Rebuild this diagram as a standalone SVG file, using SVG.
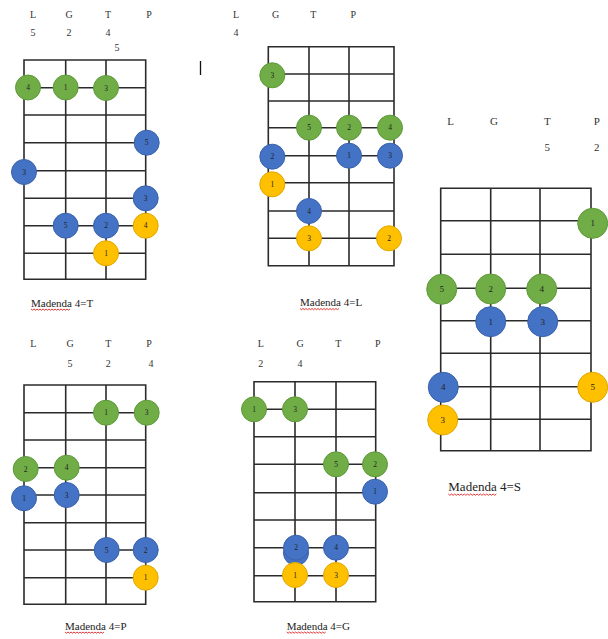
<svg xmlns="http://www.w3.org/2000/svg" width="608" height="639" viewBox="0 0 608 639">
<style>
  .grid { fill: none; stroke: #2b2b2b; stroke-width: 1.6; }
  .hdr { font-family: "Liberation Serif", "Times New Roman", serif; font-size: 10px; fill: #333; text-anchor: middle; }
  .hdr3 { font-family: "Liberation Serif", "Times New Roman", serif; font-size: 11px; fill: #333; text-anchor: middle; }
  .cap { font-family: "Liberation Serif", "Times New Roman", serif; font-size: 11px; fill: #222; }
  .cap3 { font-family: "Liberation Serif", "Times New Roman", serif; font-size: 13px; fill: #222; }
  .g { fill: #70AD47; stroke: #5E9A3A; stroke-width: 1; }
  .b { fill: #4472C4; stroke: #3A62AA; stroke-width: 1; }
  .y { fill: #FFC000; stroke: #E0A800; stroke-width: 1; }
  .n { font-family: "Liberation Serif", "Times New Roman", serif; font-size: 7.5px; fill: #222; text-anchor: middle; }
  .n3 { font-family: "Liberation Serif", "Times New Roman", serif; font-size: 9px; fill: #222; text-anchor: middle; }
  .wavy { fill: none; stroke: #E02020; stroke-width: 0.9; }
</style>

<!-- Diagram 1: Madenda 4=T -->
<g id="diagram-4T">
  <text class="hdr" x="33" y="17.5">L</text>
  <text class="hdr" x="69" y="17.5">G</text>
  <text class="hdr" x="108" y="17.5">T</text>
  <text class="hdr" x="149" y="17.5">P</text>
  <text class="hdr" x="33" y="35.5">5</text>
  <text class="hdr" x="69" y="35.5">2</text>
  <text class="hdr" x="108" y="35.5">4</text>
  <text class="hdr" x="117" y="50.5">5</text>
  <path class="grid" d="M24,60H145.7V279.3H24Z M65.7,60V279.3 M106,60V279.3 M24,87.7H145.7 M24,115H145.7 M24,142.7H145.7 M24,170.7H145.7 M24,198.3H145.7 M24,225.7H145.7 M24,253.3H145.7"/>
  <g id="d1-g4"><circle class="g" cx="28" cy="87.5" r="12.5"/><text class="n" x="28" y="90">4</text></g>
  <g id="d1-g1"><circle class="g" cx="65.7" cy="87.5" r="12.5"/><text class="n" x="65.7" y="90">1</text></g>
  <g id="d1-g3"><circle class="g" cx="106" cy="88" r="12.5"/><text class="n" x="106" y="90.5">3</text></g>
  <g id="d1-b5a"><circle class="b" cx="146.7" cy="142.7" r="12.5"/><text class="n" x="146.7" y="145.2">5</text></g>
  <g id="d1-b3a"><circle class="b" cx="24" cy="172" r="12.5"/><text class="n" x="24" y="174.5">3</text></g>
  <g id="d1-b3b"><circle class="b" cx="145.7" cy="198.3" r="12.5"/><text class="n" x="145.7" y="200.8">3</text></g>
  <g id="d1-b5b"><circle class="b" cx="65.7" cy="225.7" r="12.5"/><text class="n" x="65.7" y="228.2">5</text></g>
  <g id="d1-b2"><circle class="b" cx="106" cy="225.7" r="12.5"/><text class="n" x="106" y="228.2">2</text></g>
  <g id="d1-y4"><circle class="y" cx="145.7" cy="225.7" r="12.5"/><text class="n" x="145.7" y="228.2">4</text></g>
  <g id="d1-y1"><circle class="y" cx="106" cy="253.3" r="12.5"/><text class="n" x="106" y="255.8">1</text></g>
  <text class="cap" x="31" y="306.5">Madenda 4=T</text>
  <path class="wavy" d="M31,309 l1.5,1.2 l1.5,-1.2 l1.5,1.2 l1.5,-1.2 l1.5,1.2 l1.5,-1.2 l1.5,1.2 l1.5,-1.2 l1.5,1.2 l1.5,-1.2 l1.5,1.2 l1.5,-1.2 l1.5,1.2 l1.5,-1.2 l1.5,1.2 l1.5,-1.2 l1.5,1.2 l1.5,-1.2 l1.5,1.2 l1.5,-1.2 l1.5,1.2 l1.5,-1.2 l1.5,1.2 l1.5,-1.2 l1.5,1.2 l1.5,-1.2"/>
</g>

<!-- text cursor mark -->
<line x1="200.5" y1="61" x2="200.5" y2="75" stroke="#111" stroke-width="1.3"/>

<!-- Diagram 2: Madenda 4=L -->
<g id="diagram-4L">
  <text class="hdr" x="236" y="17.5">L</text>
  <text class="hdr" x="275.7" y="17.5">G</text>
  <text class="hdr" x="313.3" y="17.5">T</text>
  <text class="hdr" x="353.3" y="17.5">P</text>
  <text class="hdr" x="236" y="35.5">4</text>
  <path class="grid" d="M268.3,46.7H394V265.7H268.3Z M309,46.7V265.7 M349,46.7V265.7 M268.3,74H394 M268.3,101H394 M268.3,127.7H394 M268.3,155.7H394 M268.3,182.7H394 M268.3,211H394 M268.3,238.3H394"/>
  <g id="d2-g3"><circle class="g" cx="272.3" cy="75.3" r="12.5"/><text class="n" x="272.3" y="77.8">3</text></g>
  <g id="d2-g5"><circle class="g" cx="309" cy="127.7" r="12.5"/><text class="n" x="309" y="130.2">5</text></g>
  <g id="d2-g2"><circle class="g" cx="349" cy="127.7" r="12.5"/><text class="n" x="349" y="130.2">2</text></g>
  <g id="d2-g4"><circle class="g" cx="390" cy="127.7" r="12.5"/><text class="n" x="390" y="130.2">4</text></g>
  <g id="d2-b2"><circle class="b" cx="272.3" cy="156.7" r="12.5"/><text class="n" x="272.3" y="159.2">2</text></g>
  <g id="d2-b1"><circle class="b" cx="349" cy="155.7" r="12.5"/><text class="n" x="349" y="158.2">1</text></g>
  <g id="d2-b3"><circle class="b" cx="390" cy="155.7" r="12.5"/><text class="n" x="390" y="158.2">3</text></g>
  <g id="d2-y1"><circle class="y" cx="272.3" cy="184.3" r="12.5"/><text class="n" x="272.3" y="186.8">1</text></g>
  <g id="d2-b4"><circle class="b" cx="309" cy="211" r="12.5"/><text class="n" x="309" y="213.5">4</text></g>
  <g id="d2-y3"><circle class="y" cx="309" cy="238.3" r="12.5"/><text class="n" x="309" y="240.8">3</text></g>
  <g id="d2-y2"><circle class="y" cx="389" cy="238.3" r="12.5"/><text class="n" x="389" y="240.8">2</text></g>
  <text class="cap" x="300" y="306">Madenda 4=L</text>
  <path class="wavy" d="M300,308.5 l1.5,1.2 l1.5,-1.2 l1.5,1.2 l1.5,-1.2 l1.5,1.2 l1.5,-1.2 l1.5,1.2 l1.5,-1.2 l1.5,1.2 l1.5,-1.2 l1.5,1.2 l1.5,-1.2 l1.5,1.2 l1.5,-1.2 l1.5,1.2 l1.5,-1.2 l1.5,1.2 l1.5,-1.2 l1.5,1.2 l1.5,-1.2 l1.5,1.2 l1.5,-1.2 l1.5,1.2 l1.5,-1.2 l1.5,1.2 l1.5,-1.2"/>
</g>

<!-- Diagram 3: Madenda 4=S -->
<g id="diagram-4S">
  <text class="hdr3" x="450.7" y="124.5">L</text>
  <text class="hdr3" x="494" y="124.5">G</text>
  <text class="hdr3" x="547.3" y="124.5">T</text>
  <text class="hdr3" x="596.7" y="124.5">P</text>
  <text class="hdr3" x="547.3" y="150.5">5</text>
  <text class="hdr3" x="596.7" y="150.5">2</text>
  <path class="grid" d="M440.7,188.3H591V450.7H440.7Z M490.7,188.3V450.7 M540,188.3V450.7 M440.7,220.7H591 M440.7,254.3H591 M440.7,288.3H591 M440.7,320.7H591 M440.7,353.3H591 M440.7,386.7H591 M440.7,419.3H591"/>
  <g id="d3-g1"><circle class="g" cx="592.7" cy="223.3" r="15"/><text class="n3" x="592.7" y="226.3">1</text></g>
  <g id="d3-g5"><circle class="g" cx="441.7" cy="289.3" r="15"/><text class="n3" x="441.7" y="292.3">5</text></g>
  <g id="d3-g2"><circle class="g" cx="490.7" cy="289" r="15"/><text class="n3" x="490.7" y="292">2</text></g>
  <g id="d3-g4"><circle class="g" cx="541.7" cy="289" r="15"/><text class="n3" x="541.7" y="292">4</text></g>
  <g id="d3-b1"><circle class="b" cx="490.7" cy="321.7" r="15"/><text class="n3" x="490.7" y="324.7">1</text></g>
  <g id="d3-b3"><circle class="b" cx="542.7" cy="321.7" r="15"/><text class="n3" x="542.7" y="324.7">3</text></g>
  <g id="d3-b4"><circle class="b" cx="443.3" cy="387.3" r="15"/><text class="n3" x="443.3" y="390.3">4</text></g>
  <g id="d3-y5"><circle class="y" cx="592.7" cy="387.3" r="15"/><text class="n3" x="592.7" y="390.3">5</text></g>
  <g id="d3-y3"><circle class="y" cx="442.7" cy="420" r="15"/><text class="n3" x="442.7" y="423">3</text></g>
  <text class="cap3" x="448.3" y="491">Madenda 4=S</text>
  <path class="wavy" d="M448.3,494 l1.6,1.3 l1.6,-1.3 l1.6,1.3 l1.6,-1.3 l1.6,1.3 l1.6,-1.3 l1.6,1.3 l1.6,-1.3 l1.6,1.3 l1.6,-1.3 l1.6,1.3 l1.6,-1.3 l1.6,1.3 l1.6,-1.3 l1.6,1.3 l1.6,-1.3 l1.6,1.3 l1.6,-1.3 l1.6,1.3 l1.6,-1.3 l1.6,1.3 l1.6,-1.3 l1.6,1.3 l1.6,-1.3 l1.6,1.3 l1.6,-1.3 l1.6,1.3 l1.6,-1.3 l1.6,1.3 l1.6,-1.3"/>
</g>

<!-- Diagram 4: Madenda 4=P -->
<g id="diagram-4P">
  <text class="hdr" x="33.3" y="347">L</text>
  <text class="hdr" x="70" y="347">G</text>
  <text class="hdr" x="108.3" y="347">T</text>
  <text class="hdr" x="149" y="347">P</text>
  <text class="hdr" x="70" y="367">5</text>
  <text class="hdr" x="108.3" y="367">2</text>
  <text class="hdr" x="151" y="367">4</text>
  <path class="grid" d="M24,385H145.7V604.3H24Z M65.7,385V604.3 M106,385V604.3 M24,412.7H145.7 M24,440H145.7 M24,467.7H145.7 M24,495H145.7 M24,522.7H145.7 M24,550H145.7 M24,577.7H145.7"/>
  <g id="d4-g1"><circle class="g" cx="106" cy="412.7" r="12.5"/><text class="n" x="106" y="415.2">1</text></g>
  <g id="d4-g3"><circle class="g" cx="146.7" cy="412.7" r="12.5"/><text class="n" x="146.7" y="415.2">3</text></g>
  <g id="d4-g2"><circle class="g" cx="25.7" cy="469" r="12.5"/><text class="n" x="25.7" y="471.5">2</text></g>
  <g id="d4-g4"><circle class="g" cx="66.7" cy="467.7" r="12.5"/><text class="n" x="66.7" y="470.2">4</text></g>
  <g id="d4-b1"><circle class="b" cx="24" cy="498.3" r="12.5"/><text class="n" x="24" y="500.8">1</text></g>
  <g id="d4-b3"><circle class="b" cx="66.7" cy="495" r="12.5"/><text class="n" x="66.7" y="497.5">3</text></g>
  <g id="d4-b5"><circle class="b" cx="106.7" cy="550" r="12.5"/><text class="n" x="106.7" y="552.5">5</text></g>
  <g id="d4-b2"><circle class="b" cx="145.7" cy="550" r="12.5"/><text class="n" x="145.7" y="552.5">2</text></g>
  <g id="d4-y1"><circle class="y" cx="145.7" cy="577.7" r="12.5"/><text class="n" x="145.7" y="580.2">1</text></g>
  <text class="cap" x="65" y="629.5">Madenda 4=P</text>
  <path class="wavy" d="M65,632 l1.5,1.2 l1.5,-1.2 l1.5,1.2 l1.5,-1.2 l1.5,1.2 l1.5,-1.2 l1.5,1.2 l1.5,-1.2 l1.5,1.2 l1.5,-1.2 l1.5,1.2 l1.5,-1.2 l1.5,1.2 l1.5,-1.2 l1.5,1.2 l1.5,-1.2 l1.5,1.2 l1.5,-1.2 l1.5,1.2 l1.5,-1.2 l1.5,1.2 l1.5,-1.2 l1.5,1.2 l1.5,-1.2 l1.5,1.2 l1.5,-1.2"/>
</g>

<!-- Diagram 5: Madenda 4=G -->
<g id="diagram-4G">
  <text class="hdr" x="260.7" y="347">L</text>
  <text class="hdr" x="300" y="347">G</text>
  <text class="hdr" x="338.3" y="347">T</text>
  <text class="hdr" x="377.7" y="347">P</text>
  <text class="hdr" x="260.7" y="367">2</text>
  <text class="hdr" x="300" y="367">4</text>
  <path class="grid" d="M254,381.7H375.7V601.7H254Z M295,381.7V601.7 M336,381.7V601.7 M254,409.3H375.7 M254,436.7H375.7 M254,464.3H375.7 M254,492.7H375.7 M254,520H375.7 M254,547.7H375.7 M254,575.7H375.7"/>
  <g id="d5-g1"><circle class="g" cx="254" cy="409.3" r="12.5"/><text class="n" x="254" y="411.8">1</text></g>
  <g id="d5-g3"><circle class="g" cx="295" cy="409.3" r="12.5"/><text class="n" x="295" y="411.8">3</text></g>
  <g id="d5-g5"><circle class="g" cx="336" cy="464.3" r="12.5"/><text class="n" x="336" y="466.8">5</text></g>
  <g id="d5-g2"><circle class="g" cx="375" cy="464.3" r="12.5"/><text class="n" x="375" y="466.8">2</text></g>
  <g id="d5-b1"><circle class="b" cx="375" cy="491.7" r="12.5"/><text class="n" x="375" y="494.2">1</text></g>
  <g id="d5-b2"><circle class="b" cx="296" cy="553" r="12.5"/><circle class="b" cx="296" cy="547.7" r="12.5"/><text class="n" x="296" y="550.2">2</text></g>
  <g id="d5-b4"><circle class="b" cx="336" cy="547.7" r="12.5"/><text class="n" x="336" y="550.2">4</text></g>
  <g id="d5-y1"><circle class="y" cx="295" cy="575" r="12.5"/><text class="n" x="295" y="577.5">1</text></g>
  <g id="d5-y3"><circle class="y" cx="336" cy="575" r="12.5"/><text class="n" x="336" y="577.5">3</text></g>
  <text class="cap" x="286.7" y="629.5">Madenda 4=G</text>
  <path class="wavy" d="M286.7,632 l1.5,1.2 l1.5,-1.2 l1.5,1.2 l1.5,-1.2 l1.5,1.2 l1.5,-1.2 l1.5,1.2 l1.5,-1.2 l1.5,1.2 l1.5,-1.2 l1.5,1.2 l1.5,-1.2 l1.5,1.2 l1.5,-1.2 l1.5,1.2 l1.5,-1.2 l1.5,1.2 l1.5,-1.2 l1.5,1.2 l1.5,-1.2 l1.5,1.2 l1.5,-1.2 l1.5,1.2 l1.5,-1.2 l1.5,1.2 l1.5,-1.2"/>
</g>

<g id="connectors"></g>
</svg>
